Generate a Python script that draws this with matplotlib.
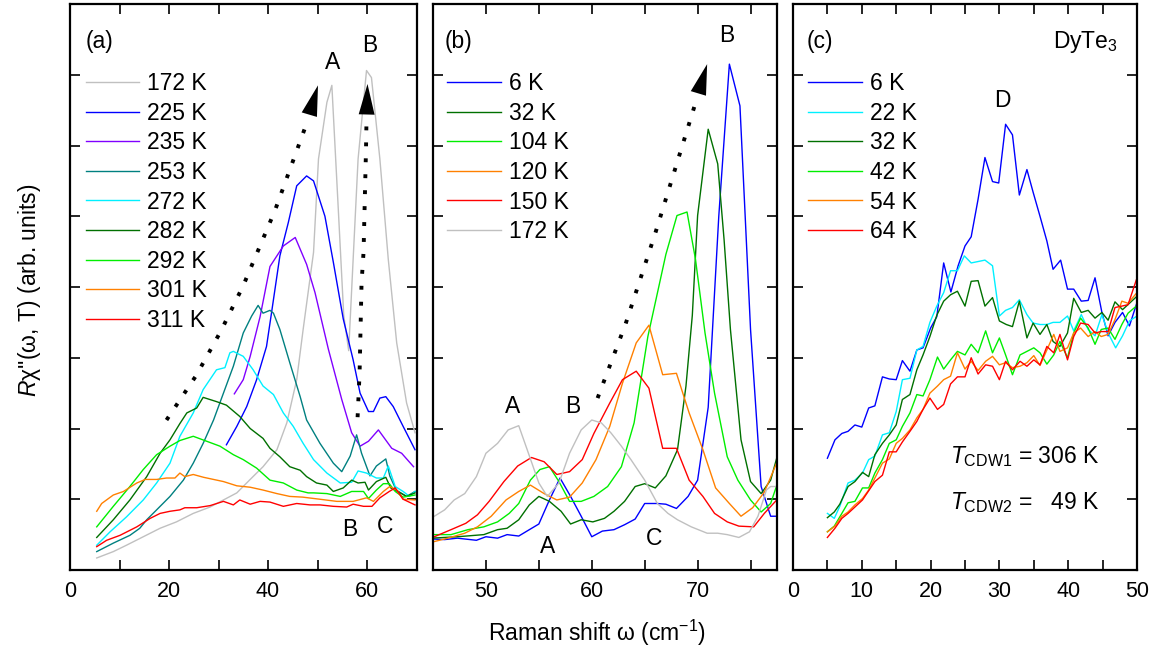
import numpy as np
import matplotlib
matplotlib.use("Agg")
import matplotlib.pyplot as plt

plt.rcParams['font.family'] = ['Liberation Sans', 'DejaVu Sans']
plt.rcParams['mathtext.fontset'] = 'custom'
plt.rcParams['mathtext.rm'] = 'Liberation Sans'
plt.rcParams['mathtext.it'] = 'Liberation Sans:italic'

# ---- panel (a): 172 K ... 311 K ----
a_labels = ['172 K', '225 K', '235 K', '253 K', '272 K', '282 K', '292 K', '301 K', '311 K']
a_x = [
    [5.4, 8.75, 11.4, 14.8, 18.2, 21.5, 24.9, 28.3, 31.0, 33.7, 36.4, 39.0, 41.8, 43.8, 45.8, 47.1, 48.1, 49.2, 50.2, 51.9,
     52.9, 53.5, 54.2, 55.3, 56.3, 57.2, 58.2, 59.9, 60.9, 62.6, 64.3, 66.0, 68.0, 69.7],
    [31.6, 33.7, 35.7, 37.7, 39.7, 40.7, 42.4, 44.1, 45.8, 47.8, 49.2, 51.5, 53.2, 55.2, 57.2, 58.6, 60.3, 61.3, 62.6,
     63.8, 65.3, 67.3, 69.7],
    [33.2, 35.0, 36.4, 38.4, 40.4, 43.1, 45.5, 47.8, 49.5, 52.2, 54.9, 56.9, 58.6, 60.3, 62.3, 65.0, 67.0, 69.4],
    [5.4, 8.75, 12.1, 14.1, 15.5, 17.5, 20.2, 22.9, 24.9, 26.9, 29.0, 31.0, 33.0, 35.0, 36.7, 38.0, 39.0, 40.4, 41.1, 42.4,
     44.4, 46.5, 47.8, 50.5, 53.2, 54.9, 56.6, 57.9, 58.9, 60.6, 61.9, 63.8, 64.6, 65.9, 68.0, 69.7],
    [5.4, 8.1, 11.4, 14.8, 17.5, 20.2, 22.2, 24.9, 26.9, 29.6, 31.3, 32.3, 33.0, 35.0, 37.0, 39.0, 41.1, 43.1, 45.1, 47.1,
     49.2, 51.9, 54.6, 56.9, 58.2, 59.9, 61.9, 63.3, 64.3, 65.7, 67.3, 68.6, 69.7],
    [5.4, 8.75, 12.1, 15.5, 18.2, 20.2, 22.2, 23.6, 25.6, 26.9, 29.6, 31.6, 34.3, 36.4, 37.7, 39.0, 40.4, 42.4, 44.4, 46.5,
     47.8, 49.8, 51.9, 53.2, 55.2, 56.9, 58.2, 59.6, 60.3, 61.9, 63.8, 64.8, 66.7, 68.0, 69.7],
    [5.4, 8.75, 12.1, 14.8, 17.5, 20.2, 22.2, 24.9, 27.6, 30.3, 33.0, 35.0, 37.7, 40.4, 43.1, 45.8, 48.1, 49.2, 51.9, 54.6,
     56.9, 59.3, 60.3, 61.9, 63.3, 64.5, 65.7, 67.3, 69.7],
    [5.4, 6.4, 8.75, 10.8, 13.5, 15.2, 17.5, 19.5, 21.2, 22.2, 23.2, 24.9, 27.0, 29.0, 31.0, 33.7, 36.4, 39.0, 41.8, 44.4,
     47.0, 50.5, 53.9, 57.2, 59.9, 61.3, 63.3, 64.6, 66.0, 67.3, 69.7],
    [5.4, 7.4, 10.1, 13.5, 16.2, 18.2, 20.2, 22.2, 23.2, 25.6, 28.3, 31.0, 33.0, 34.3, 36.4, 38.4, 40.4, 43.1, 45.8, 48.5,
     50.5, 53.2, 55.9, 57.2, 59.3, 61.0, 62.6, 64.5, 65.7, 67.3, 69.7],
]
a_y = [
    [0.17, 0.26, 0.35, 0.47, 0.59, 0.68, 0.80, 0.89, 0.99, 1.09, 1.28, 1.46, 1.70, 2.08, 2.69, 3.40, 3.92, 4.49, 5.81, 6.61,
     6.85, 6.04, 5.10, 3.60, 3.10, 4.39, 5.81, 7.06, 6.96, 5.81, 4.39, 3.21, 2.36, 1.94],
    [1.77, 2.03, 2.31, 2.69, 3.16, 3.63, 4.44, 4.91, 5.43, 5.57, 5.50, 5.00, 4.35, 3.55, 2.97, 2.50, 2.24, 2.24, 2.43,
     2.45, 2.31, 2.03, 1.70],
    [2.49, 2.69, 3.02, 3.58, 4.29, 4.58, 4.70, 4.32, 3.92, 3.12, 2.41, 1.94, 1.75, 1.82, 1.98, 1.72, 1.65, 1.46],
    [0.26, 0.38, 0.49, 0.59, 0.71, 0.85, 1.04, 1.27, 1.51, 1.79, 2.12, 2.50, 2.88, 3.35, 3.59, 3.74, 3.63, 3.67, 3.63, 3.40,
     2.93, 2.45, 2.12, 1.79, 1.51, 1.39, 1.61, 1.91, 1.65, 1.33, 1.47, 1.57, 1.33, 1.13, 1.04, 1.11],
    [0.35, 0.54, 0.75, 0.99, 1.23, 1.51, 1.89, 2.22, 2.55, 2.83, 2.86, 3.07, 3.09, 3.02, 2.83, 2.60, 2.48, 2.22, 2.03, 1.79,
     1.56, 1.37, 1.23, 1.24, 1.40, 1.37, 1.30, 1.30, 1.47, 1.18, 1.11, 1.04, 1.11],
    [0.46, 0.71, 0.99, 1.32, 1.65, 1.84, 2.07, 2.22, 2.29, 2.44, 2.38, 2.33, 2.17, 2.00, 1.93, 1.86, 1.72, 1.60, 1.46, 1.41,
     1.32, 1.23, 1.20, 1.11, 1.16, 1.27, 1.23, 1.24, 1.13, 1.25, 1.31, 1.16, 1.09, 1.04, 1.09],
    [0.61, 0.90, 1.18, 1.42, 1.63, 1.75, 1.83, 1.89, 1.82, 1.75, 1.63, 1.56, 1.44, 1.27, 1.23, 1.13, 1.09, 1.09, 1.08, 1.04,
     1.11, 1.11, 1.01, 1.13, 1.22, 1.22, 1.11, 1.03, 1.06],
    [0.83, 0.94, 1.06, 1.11, 1.23, 1.28, 1.28, 1.30, 1.30, 1.37, 1.32, 1.35, 1.31, 1.28, 1.25, 1.19, 1.17, 1.13, 1.08, 1.04,
     1.03, 1.00, 0.97, 0.97, 1.02, 0.97, 1.11, 1.18, 1.13, 1.00, 0.99],
    [0.33, 0.42, 0.49, 0.61, 0.73, 0.80, 0.83, 0.85, 0.88, 0.88, 0.91, 0.97, 0.92, 0.99, 0.93, 0.97, 0.96, 0.90, 0.94, 0.92,
     0.92, 0.90, 0.89, 0.93, 0.90, 0.90, 1.02, 1.11, 1.16, 1.00, 0.92],
]
a_colors = ['#c0c0c0', '#0000ff', '#8000ff', '#008080', '#00f0ff', '#007000', '#00ee00', '#ff8000', '#ff0000']

# ---- panel (b): 6 K ... 172 K ----
b_labels = ['6 K', '32 K', '104 K', '120 K', '150 K', '172 K']
b_x = [
    [44.8, 46.1, 47.3, 49.1, 50.0, 51.1, 52.0, 53.1, 54.1, 55.0, 56.0, 57.0, 58.0, 59.0, 60.0, 61.0, 62.1, 63.1, 64.1, 65.0,
     66.2, 67.0, 68.0, 69.1, 70.0, 71.0, 72.0, 73.0, 74.0, 75.0, 76.0, 76.9, 77.6],
    [44.8, 47.3, 49.8, 51.1, 52.0, 53.1, 54.1, 55.0, 56.0, 57.1, 58.0, 59.0, 60.1, 61.2, 62.1, 63.1, 64.1, 65.0, 66.0, 67.0,
     68.1, 68.9, 69.5, 70.0, 71.0, 71.9, 72.5, 73.1, 74.1, 75.0, 76.0, 76.9, 77.6],
    [44.8, 46.7, 48.3, 49.8, 51.1, 52.2, 53.1, 54.2, 55.1, 56.0, 56.9, 57.9, 59.0, 60.2, 61.5, 62.8, 64.0, 65.3, 67.0, 68.05,
     69.0, 69.8, 70.7, 71.6, 72.8, 73.8, 75.0, 76.0, 76.9, 77.6],
    [44.8, 46.4, 48.0, 49.2, 50.5, 51.9, 53.1, 54.2, 55.5, 56.7, 57.9, 59.1, 60.4, 61.7, 62.9, 64.2, 65.4, 66.7, 68.0, 69.2,
     70.5, 71.7, 73.0, 74.1, 75.2, 76.3, 77.6],
    [44.8, 46.7, 48.1, 49.2, 50.3, 51.7, 53.0, 54.3, 55.5, 56.7, 57.9, 59.1, 60.2, 61.7, 62.9, 64.2, 65.4, 66.7, 68.0, 69.2,
     70.5, 71.6, 72.8, 73.9, 75.3, 76.3, 77.6],
    [44.8, 46.1, 47.0, 48.0, 49.1, 50.0, 51.1, 52.1, 53.1, 53.9, 55.0, 55.8, 56.9, 57.9, 59.0, 60.0, 60.9, 61.8, 62.8, 63.7,
     65.0, 66.2, 67.2, 68.1, 69.4, 70.9, 71.9, 72.8, 73.9, 74.9, 75.7, 76.5, 76.9, 77.6],
]
b_y = [
    [0.44, 0.43, 0.45, 0.42, 0.47, 0.45, 0.50, 0.48, 0.57, 0.65, 0.99, 1.30, 1.04, 0.76, 0.47, 0.55, 0.57, 0.64, 0.72, 0.94,
     0.94, 0.93, 0.87, 1.04, 1.27, 2.30, 5.00, 7.15, 6.56, 3.40, 1.18, 0.76, 0.76],
    [0.45, 0.47, 0.50, 0.57, 0.59, 0.71, 0.92, 1.04, 0.97, 0.83, 0.65, 0.71, 0.68, 0.73, 0.83, 0.97, 1.18, 1.22, 1.16, 1.33,
     1.70, 2.60, 3.60, 5.01, 6.23, 5.74, 4.67, 3.40, 1.84, 1.25, 1.08, 1.27, 1.65],
    [0.50, 0.50, 0.57, 0.61, 0.68, 0.80, 0.94, 1.27, 1.42, 1.46, 1.25, 0.97, 0.97, 1.04, 1.18, 1.46, 2.08, 3.30, 4.46, 5.01,
     5.06, 4.39, 3.35, 2.50, 1.60, 1.27, 0.99, 0.82, 0.94, 1.25],
    [0.39, 0.45, 0.52, 0.61, 0.76, 0.99, 1.11, 1.20, 1.08, 0.99, 1.03, 1.23, 1.56, 2.03, 2.64, 3.21, 3.46, 2.76, 2.78, 2.22,
     1.70, 1.16, 0.94, 0.76, 0.88, 1.10, 1.56],
    [0.45, 0.57, 0.66, 0.78, 0.97, 1.25, 1.47, 1.59, 1.53, 1.35, 1.39, 1.56, 1.93, 2.36, 2.69, 2.81, 2.57, 1.72, 1.72, 1.27,
     1.04, 0.80, 0.68, 0.62, 0.61, 0.80, 1.01],
    [0.73, 0.85, 0.99, 1.08, 1.32, 1.65, 1.79, 1.98, 2.04, 1.70, 1.23, 1.04, 1.23, 1.65, 1.98, 2.12, 2.08, 1.94, 1.75, 1.56,
     1.27, 0.94, 0.80, 0.71, 0.61, 0.52, 0.52, 0.50, 0.46, 0.54, 0.76, 1.13, 1.18, 1.18],
]
b_colors = ['#0000ff', '#007000', '#00ee00', '#ff8000', '#ff0000', '#c0c0c0']

# ---- panel (c): DyTe3, 6 K ... 64 K ----
c_labels = ['6 K', '22 K', '32 K', '42 K', '54 K', '64 K']
c_x = [
    [5.0, 6.1, 7.1, 8.0, 9.0, 10.0, 11.0, 11.9, 13.0, 14.0, 15.0, 15.9, 17.0, 18.0, 18.9, 20.0, 20.9, 21.9, 22.95, 24.0,
     25.0, 25.9, 26.9, 27.9, 29.0, 29.9, 30.9, 31.9, 32.9, 34.0, 34.9, 35.9, 36.9, 37.8, 38.9, 39.9, 40.8, 41.9, 42.9, 43.9,
     44.9, 45.8, 46.8, 47.9, 48.9, 50.0],
    [5, 6, 6.8, 8, 9, 10.1, 11, 11.9, 13, 14, 15, 15.9, 17, 18, 18.9, 19.9, 20.9, 21.9, 22.9, 23.9, 24.9, 25.9, 26.9, 27.9,
     29, 30, 30.9, 31.9, 32.9, 34, 34.9, 35.9, 36.9, 37.8, 38.8, 39.9, 40.8, 41.9, 42.9, 43.9, 44.9, 45.8, 46.9, 47.9, 48.9,
     50],
    [5, 6, 6.8, 8, 9, 10.1, 11, 11.9, 13, 14, 15, 15.9, 17, 18, 18.9, 19.9, 20.9, 21.9, 22.9, 23.9, 25, 25.9, 26.9, 27.9,
     29, 30, 31, 31.9, 32.9, 34, 34.9, 35.9, 36.9, 37.8, 38.8, 39.9, 40.8, 41.9, 42.9, 43.9, 44.9, 45.8, 46.8, 47.9, 48.9,
     50],
    [5, 6, 7.1, 8, 9, 10.1, 11, 11.9, 13, 14, 15, 15.9, 17, 18, 18.9, 19.9, 21, 21.9, 22.9, 23.9, 25, 25.9, 26.9, 28, 29,
     30, 30.9, 31.9, 33, 34, 35, 35.9, 36.9, 37.9, 38.8, 39.9, 40.8, 41.8, 42.9, 43.9, 44.8, 45.8, 46.8, 47.8, 48.7, 49.9],
    [5, 6.1, 7.1, 8, 9, 10.1, 11, 11.9, 13, 14, 15, 15.9, 17, 18, 18.9, 19.9, 21, 21.9, 22.9, 23.9, 25, 25.9, 26.9, 28, 29,
     30, 30.9, 31.9, 33, 34, 35, 35.9, 36.9, 37.9, 38.8, 39.9, 40.8, 41.8, 42.9, 43.9, 44.8, 45.8, 46.8, 47.8, 48.7, 49.9],
    [5, 6.1, 7.1, 8, 9, 10.1, 11, 11.9, 13, 14, 15, 15.9, 17, 18, 18.9, 19.9, 21, 21.9, 22.9, 23.9, 25, 25.9, 26.9, 28, 29,
     30, 30.9, 31.9, 33, 34, 35, 35.9, 36.9, 37.9, 38.8, 39.9, 40.8, 41.8, 42.9, 43.9, 44.8, 45.8, 46.8, 47.8, 48.7, 49.9],
]
c_y = [
    [1.58, 1.84, 1.93, 1.96, 2.05, 2.02, 2.29, 2.32, 2.73, 2.70, 2.69, 2.96, 2.81, 3.11, 3.14, 3.42, 3.58, 4.34, 3.93, 4.30,
     4.58, 4.71, 5.24, 5.83, 5.49, 5.47, 6.30, 6.15, 5.30, 5.66, 5.34, 5.00, 4.65, 4.25, 4.38, 3.97, 3.97, 3.80, 3.81, 4.13,
     3.64, 3.31, 3.50, 3.64, 3.45, 3.78],
    [0.80, 0.73, 0.90, 1.23, 1.27, 1.37, 1.56, 1.61, 1.91, 1.94, 2.24, 2.69, 2.71, 3.11, 3.16, 3.50, 3.73, 3.92, 4.23, 4.23,
     4.44, 4.34, 4.36, 4.38, 4.30, 3.59, 3.67, 3.71, 3.82, 3.61, 3.49, 3.47, 3.47, 3.50, 3.50, 3.59, 3.38, 3.61, 3.40, 3.31,
     3.61, 3.35, 3.14, 3.31, 3.52, 3.59],
    [0.74, 0.82, 0.93, 1.18, 1.25, 1.38, 1.32, 1.63, 1.79, 1.91, 2.05, 2.41, 2.48, 2.83, 3.04, 3.30, 3.60, 3.80, 3.89, 3.94,
     3.73, 4.08, 4.09, 3.73, 3.85, 3.52, 3.47, 3.44, 3.80, 3.28, 3.49, 3.33, 3.47, 3.23, 3.16, 3.35, 3.84, 3.64, 3.67, 3.56,
     3.64, 3.53, 3.79, 3.68, 3.77, 3.87],
    [0.54, 0.62, 0.80, 0.95, 0.97, 1.16, 1.16, 1.37, 1.56, 1.79, 1.84, 2.03, 2.22, 2.48, 2.46, 2.69, 3.01, 2.84, 2.97, 3.09,
     3.04, 3.19, 3.07, 3.38, 3.07, 3.28, 3.04, 2.76, 3.04, 3.09, 3.14, 3.07, 2.91, 3.04, 3.23, 3.00, 3.35, 3.56, 3.42, 3.19,
     3.40, 3.42, 3.26, 3.47, 3.63, 3.73],
    [0.54, 0.62, 0.76, 0.82, 0.92, 1.01, 1.13, 1.30, 1.51, 1.57, 1.79, 1.86, 1.98, 2.15, 2.27, 2.50, 2.60, 2.69, 2.74, 3.07,
     2.84, 2.95, 2.82, 2.95, 3.02, 2.90, 2.93, 2.86, 2.88, 2.93, 3.03, 2.89, 3.11, 3.33, 3.09, 3.14, 3.35, 3.42, 3.30, 3.37,
     3.30, 3.33, 3.54, 3.80, 3.77, 3.91],
    [0.46, 0.59, 0.73, 0.80, 0.89, 0.99, 1.12, 1.25, 1.34, 1.67, 1.67, 1.81, 1.96, 2.10, 2.27, 2.43, 2.27, 2.34, 2.63, 2.73,
     2.73, 3.00, 2.77, 2.90, 2.88, 2.69, 2.95, 2.83, 2.95, 2.88, 2.97, 2.90, 3.16, 3.07, 3.33, 2.97, 3.30, 3.49, 3.47, 3.35,
     3.37, 3.37, 3.71, 3.73, 3.75, 4.10],
]
c_colors = ['#0000ff', '#00f0ff', '#007000', '#00ee00', '#ff8000', '#ff0000']

# dotted guide arrows (path points, last point = arrow tip)
a_arrowA_x = [19.5, 25.5, 30.5, 35.0, 41.4, 47.9, 50.1]
a_arrowA_y = [2.12, 2.75, 3.38, 4.02, 5.08, 6.33, 6.85]
a_arrowB_x = [58.1, 58.5, 58.9, 59.3, 59.8, 59.9, 60.1]
a_arrowB_y = [2.16, 2.78, 4.06, 4.49, 5.95, 6.37, 6.87]
b_arrow_x = [60.55, 63.2, 66.0, 69.9, 70.9]
b_arrow_y = [2.43, 3.48, 4.76, 6.65, 7.15]

fig = plt.figure(figsize=(11.6, 6.52), dpi=100)
W, H = 1160, 652
bottom = (H - 570) / H
height = 566 / H
ax_a = fig.add_axes([70 / W, bottom, 346.5 / W, height])
ax_b = fig.add_axes([433 / W, bottom, 344 / W, height])
ax_c = fig.add_axes([793 / W, bottom, 344 / W, height])

FS = 16.5


def style(ax, xlim, major, minor):
    ax.set_xlim(*xlim)
    ax.set_ylim(0, 8)
    ax.set_xticks(major)
    ax.set_xticks(minor, minor=True)
    ax.set_yticks(np.arange(1, 8))
    ax.set_yticklabels([])
    ax.tick_params(which='both', direction='in', top=True, right=True, length=7, width=1.2,
                   labelsize=15.5, pad=8)
    for s in ax.spines.values():
        s.set_linewidth(1.6)


def dotted_arrow(ax, xs, ys):
    ax.plot(xs[:-1], ys[:-1], color='k', lw=2.8, linestyle=(0, (1, 3.1)), dash_capstyle='butt')
    ax.annotate('', xy=(xs[-1], ys[-1]), xytext=(xs[-2], ys[-2]),
                arrowprops=dict(arrowstyle='-|>,head_length=1.0,head_width=0.26', mutation_scale=22,
                                color='k', lw=0, shrinkA=0, shrinkB=0))


def legend(ax, x0):
    ax.legend(loc='upper left', bbox_to_anchor=(x0, 0.880), frameon=False, fontsize=FS,
              handlelength=2.35, handletextpad=0.35, labelspacing=0.29, borderpad=0, borderaxespad=0)


# panel (a)
for xs, ys, c, lab in zip(a_x, a_y, a_colors, a_labels):
    ax_a.plot(xs, ys, color=c, lw=1.0, label=lab)
style(ax_a, (0, 70), [0, 20, 40, 60], np.arange(10, 70, 10))
legend(ax_a, 0.045)
dotted_arrow(ax_a, a_arrowA_x, a_arrowA_y)
dotted_arrow(ax_a, a_arrowB_x, a_arrowB_y)
ax_a.text(0.045, 0.933, '(a)', transform=ax_a.transAxes, fontsize=FS, ha='left', va='center')
ax_a.text(53.1, 7.18, 'A', fontsize=FS, ha='center', va='center')
ax_a.text(60.6, 7.42, 'B', fontsize=FS, ha='center', va='center')
ax_a.text(56.6, 0.57, 'B', fontsize=FS, ha='center', va='center')
ax_a.text(63.6, 0.61, 'C', fontsize=FS, ha='center', va='center')

# panel (b)
for xs, ys, c, lab in zip(b_x, b_y, b_colors, b_labels):
    ax_b.plot(xs, ys, color=c, lw=1.0, label=lab)
style(ax_b, (45, 77.5), [50, 60, 70], np.arange(45, 78, 5))
legend(ax_b, 0.040)
dotted_arrow(ax_b, b_arrow_x, b_arrow_y)
ax_b.text(0.033, 0.933, '(b)', transform=ax_b.transAxes, fontsize=FS, ha='left', va='center')
ax_b.text(72.76, 7.55, 'B', fontsize=FS, ha='center', va='center')
ax_b.text(52.55, 2.31, 'A', fontsize=FS, ha='center', va='center')
ax_b.text(58.2, 2.31, 'B', fontsize=FS, ha='center', va='center')
ax_b.text(55.85, 0.33, 'A', fontsize=FS, ha='center', va='center')
ax_b.text(65.9, 0.45, 'C', fontsize=FS, ha='center', va='center')

# panel (c)
for xs, ys, c, lab in zip(c_x, c_y, c_colors, c_labels):
    ax_c.plot(xs, ys, color=c, lw=1.0, label=lab)
style(ax_c, (0, 50), [0, 10, 20, 30, 40, 50], np.arange(5, 50, 10))
legend(ax_c, 0.043)
ax_c.text(0.041, 0.933, '(c)', transform=ax_c.transAxes, fontsize=FS, ha='left', va='center')
ax_c.text(0.945, 0.933, 'DyTe$_3$', transform=ax_c.transAxes, fontsize=FS, ha='right', va='center')
ax_c.text(30.5, 6.63, 'D', fontsize=FS, ha='center', va='center')
ax_c.text(22.8, 1.60, '$T_\\mathrm{CDW1}$ = 306 K', fontsize=FS, ha='left', va='center')
ax_c.text(22.8, 0.95, '$T_\\mathrm{CDW2}$ =   49 K', fontsize=FS, ha='left', va='center')

fig.text(30 / W, 1 - 290 / H, "$R$\u03c7''(\u03c9, T) (arb. units)", rotation=90, fontsize=FS,
         ha='center', va='center')
fig.text(597 / W, 1 - 633 / H, 'Raman shift \u03c9 (cm$^{-1}$)', fontsize=FS, ha='center', va='center')

fig.savefig('out.png', dpi=100)
